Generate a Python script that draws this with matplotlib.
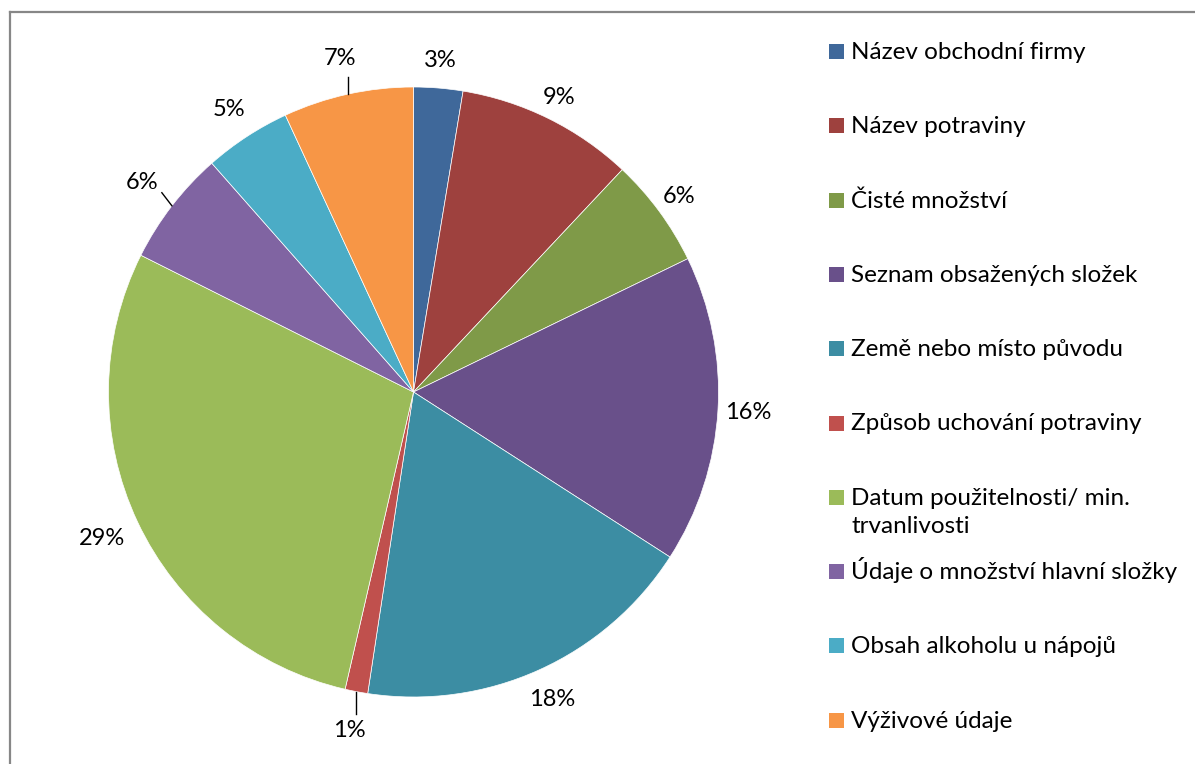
import matplotlib
matplotlib.use("Agg")
import matplotlib.pyplot as plt
import numpy as np
from matplotlib.patches import Rectangle
from matplotlib.lines import Line2D

categories = [
    "Název obchodní firmy",
    "Název potraviny",
    "Čisté množství",
    "Seznam obsažených složek",
    "Země nebo místo původu",
    "Způsob uchování potraviny",
    "Datum použitelnosti/ min.\ntrvanlivosti",
    "Údaje o množství hlavní složky",
    "Obsah alkoholu u nápojů",
    "Výživové údaje",
]
values = [2.6, 9.4, 5.8, 16.3, 18.3, 1.2, 28.8, 6.1, 4.6, 6.9]
colors = ["#3F689A", "#9E413E", "#7F9A48", "#69508A", "#3C8DA3",
          "#C0504D", "#9BBB59", "#8064A2", "#4BACC6", "#F79646"]
# label distance (in radii) for each percentage label
label_dist = [1.09, 1.077, 1.08, 1.10, 1.105, 1.13, 1.13, 1.125, 1.107, 1.118]
# leader lines: slice index -> (dx, dy) offset from the wedge edge
leaders = {5: (0.0, -0.072), 7: (-0.033, 0.043), 9: (0.0, 0.056)}

plt.rcParams['font.family'] = ['Lato', 'DejaVu Sans']
W, H = 1195, 764
fig = plt.figure(figsize=(W / 100, H / 100), dpi=100)

# frame (left and top edges visible)
fig.add_artist(Line2D([10 / W, 10 / W], [0, 1 - 12 / H], transform=fig.transFigure,
                      color="#878787", lw=1.6))
fig.add_artist(Line2D([10 / W, 1], [1 - 12 / H, 1 - 12 / H], transform=fig.transFigure,
                      color="#878787", lw=1.6))

cx, cy, r = 413.5, 392, 305
ax = fig.add_axes([(cx - r) / W, (H - cy - r) / H, 2 * r / W, 2 * r / H])

wedges, _ = ax.pie(values, colors=colors, startangle=90, counterclock=False,
                   radius=1, wedgeprops=dict(linewidth=0.5, edgecolor="white"))
ax.set_xlim(-1, 1)
ax.set_ylim(-1, 1)
ax.axis("off")

total = sum(values)
for i, w in enumerate(wedges):
    mid = np.deg2rad((w.theta1 + w.theta2) / 2)
    d = label_dist[i]
    pct = values[i] / total * 100
    ax.text(d * np.cos(mid), d * np.sin(mid), f"{pct:.0f}%", ha="center", va="center",
            fontsize=17, color="black", clip_on=False)
    if i in leaders:
        ex, ey = np.cos(mid), np.sin(mid)
        dx, dy = leaders[i]
        ax.plot([ex, ex + dx], [ey, ey + dy], color="black", lw=1.0, clip_on=False)

# legend
y0, step, line_h = 51.5, 74.3, 28
for i, (lab, col) in enumerate(zip(categories, colors)):
    y = y0 + step * i
    fig.add_artist(Rectangle((829 / W, 1 - (y + 7.5) / H), 15 / W, 15 / H,
                             transform=fig.transFigure, facecolor=col, edgecolor="none"))
    for k, line in enumerate(lab.split("\n")):
        fig.text(851 / W, 1 - (y + 7.5 + k * line_h) / H, line, ha="left", va="baseline",
                 fontsize=17.5, color="black")

fig.savefig("out.png", dpi=100)
